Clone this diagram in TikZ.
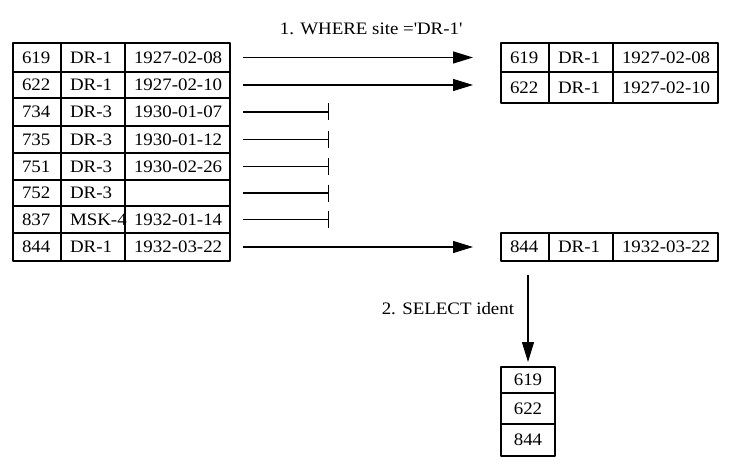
\documentclass[tikz,border=0pt]{standalone}
\usepackage{fontspec}
\setmainfont{Liberation Serif}[FakeStretch=1.08]
\usetikzlibrary{arrows.meta}

\begin{document}
\begin{tikzpicture}[x=1pt, y=-1pt, font=\fontsize{17.5}{20}\selectfont, line join=round, line width=1.2pt,
	cell/.style={draw, inner xsep=9pt, inner ysep=0pt, outer sep=0pt, anchor=north west, align=left},
	idcell/.style={cell, text width=30pt},
	sitecell/.style={cell, text width=46pt},
	datecell/.style={cell, text width=87pt},
	rescell/.style={cell, text width=36pt, align=center},
	pass/.style={-{Triangle[length=20pt,width=12pt]}},
	blocked/.style={-{Bar[width=17pt]}}]
	%			\draw[gray,step=50] (0,0) grid (738,465);
	\useasboundingbox (0,0) rectangle (738,465);
	
	% input table
	\foreach \id/\site/\date/\ya/\yb [count=\i] in {619/DR-1/1927-02-08/43/72, 622/DR-1/1927-02-10/72/98,
		734/DR-3/1930-01-07/98/126, 735/DR-3/1930-01-12/126/153, 751/DR-3/1930-02-26/153/180,
		752/DR-3//180/206, 837/MSK-4/1932-01-14/206/233, 844/DR-1/1932-03-22/233/261}
	{
		\pgfmathsetmacro\h{\yb-\ya}
		\node[idcell, minimum height=\h pt] (in\i-id) at (13,\ya) {\mbox{\id}};
		\node[sitecell, minimum height=\h pt] (in\i-site) at (in\i-id.north east) {\mbox{\site}};
		\node[datecell, minimum height=\h pt] (in\i-date) at (in\i-site.north east) {\mbox{\date}};
	}
	
	% filtered table
	\foreach \id/\site/\date/\ya/\yb [count=\j] in {619/DR-1/1927-02-08/43/72, 622/DR-1/1927-02-10/72/103,
		844/DR-1/1932-03-22/233/261}
	{
		\pgfmathsetmacro\h{\yb-\ya}
		\node[idcell, minimum height=\h pt] (out\j-id) at (501,\ya) {\mbox{\id}};
		\node[sitecell, minimum height=\h pt] (out\j-site) at (out\j-id.north east) {\mbox{\site}};
		\node[datecell, minimum height=\h pt] (out\j-date) at (out\j-site.north east) {\mbox{\date}};
	}
	
	% result column
	\foreach \id/\ya/\yb [count=\k] in {619/367/393, 622/393/424, 844/424/456}
	{
		\pgfmathsetmacro\h{\yb-\ya}
		\node[rescell, minimum height=\h pt] (res\k) at (501,\ya) {\id};
	}
	
	\node (where) at (371,29) {1. WHERE site =\textquotesingle DR-1\textquotesingle};
	
	\foreach \i/\j in {1/1, 2/2, 8/3}
	\draw[pass] ([xshift=13pt]in\i-date.east) -- ([xshift=-28pt]out\j-id.west |- in\i-date.east);
	
	\foreach \i in {3,...,7}
	{
		\coordinate (stop\i) at ([xshift=99pt]in\i-date.east);
		\draw[blocked] ([xshift=13pt]in\i-date.east) -- (stop\i);
	}
	
	\draw[pass] ([yshift=-14pt]res1.north |- out3-id.south) -- ([yshift=5pt]res1.north)
	node[pos=0.38, anchor=east, xshift=-10pt] (select) {2. SELECT ident};
\end{tikzpicture}
\end{document}
